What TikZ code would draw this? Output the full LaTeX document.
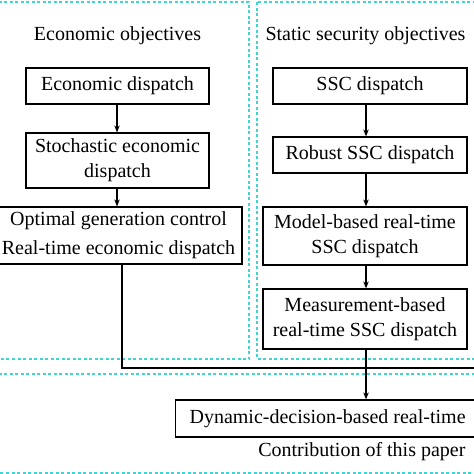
\documentclass[tikz,border=0pt]{standalone}
\usepackage{fontspec}
\setmainfont{Liberation Serif}
\newfontfamily\tnr{Liberation Serif}
\usetikzlibrary{arrows.meta}
\definecolor{turq}{RGB}{64,214,208}
\begin{document}
\begin{tikzpicture}[x=1pt,y=-1pt,
  every node/.style={font=\tnr\fontsize{20}{25}\selectfont},
  box/.style={draw,line width=1.2pt,align=center,inner sep=0pt},
  region/.style={draw=turq,line width=1.6pt,dash pattern=on 3pt off 2.5pt},
  link/.style={line width=1.2pt},
  arr/.style={line width=1.2pt,-{Stealth[length=7pt,width=5.5pt]}}]
\useasboundingbox (0,0) rectangle (474,474);
\clip (0,0) rectangle (474,474);
% regions
\draw[region] (-5,2) rectangle (249,359);
\draw[region] (257,2) rectangle (485,359);
\draw[region] (-5,374) rectangle (485,473);
% titles
\node (et) at (117.5,36) {Economic objectives};
\node (st) at (365.5,36) {Static security objectives};
% left column
\node[box,minimum width=183pt,minimum height=36pt] (ed) at (117.5,86) {Economic dispatch};
\node[box,minimum width=183pt,minimum height=55pt] (sed) at (117.5,160.5) {Stochastic economic\\dispatch};
\node[box,minimum width=247pt,minimum height=57pt] (ogc) at (118.5,235.5) {Optimal generation control\\[4pt]Real-time economic dispatch};
% right column
\node[box,minimum width=194pt,minimum height=36pt] (ssc) at (370,86) {SSC dispatch};
\node[box,minimum width=194pt,minimum height=36pt] (rob) at (370,155) {Robust SSC dispatch};
\node[box,minimum width=204pt,minimum height=58pt] (mod) at (365,236) {Model-based real-time\\SSC dispatch};
\node[box,minimum width=204pt,minimum height=60pt] (mea) at (365,319) {Measurement-based\\real-time SSC dispatch};
% bottom
\node[box,anchor=west,inner xsep=14pt,minimum height=37pt] (dyn) at (175,418.5) {Dynamic-decision-based real-time};
\node[anchor=east] (con) at (469,452) {Contribution of this paper};
% connectors
\coordinate (lx) at (117,0);
\coordinate (rx) at (366,0);
\coordinate (jx) at (122,0);
\coordinate (jy) at (0,368);
\coordinate (jend) at (485,368);
\draw[arr] (ed.south -| lx) -- (sed.north -| lx);
\draw[arr] (sed.south -| lx) -- (ogc.north -| lx);
\draw[arr] (ssc.south -| rx) -- (rob.north -| rx);
\draw[arr] (rob.south -| rx) -- (mod.north -| rx);
\draw[arr] (mod.south -| rx) -- (mea.north -| rx);
\draw[arr] (mea.south -| rx) -- (dyn.north -| rx);
\draw[link] (ogc.south -| jx) -- (jx |- jy) -- (jend);
\end{tikzpicture}
\end{document}
